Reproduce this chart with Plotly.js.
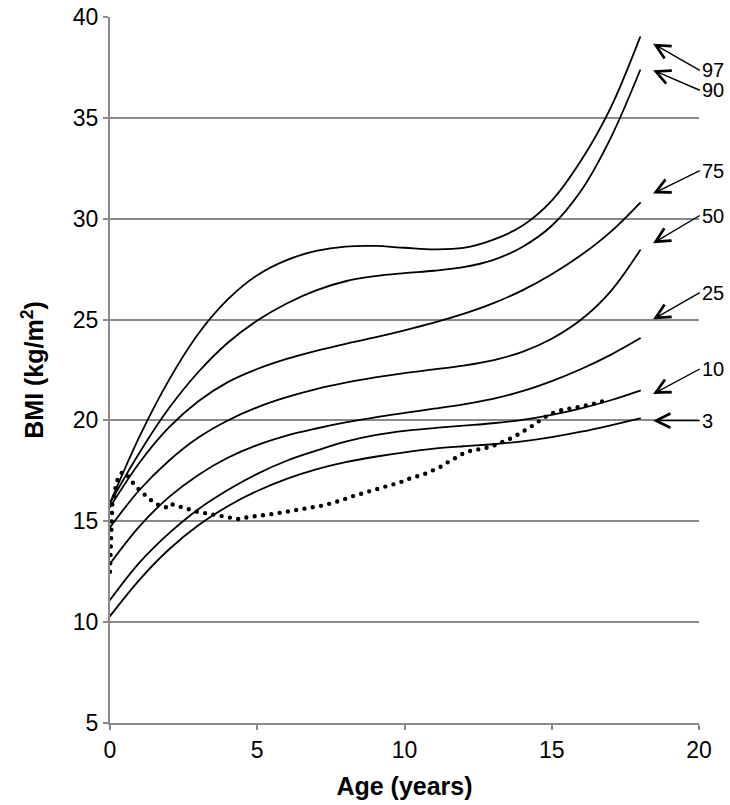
<!DOCTYPE html>
<html><head><meta charset="utf-8">
<script src="https://cdn.plot.ly/plotly-3.0.1.min.js"></script>
<style>
html,body{margin:0;padding:0;background:#fff}
#chart{width:730px;height:805px}
.scatterlayer .js-line{stroke-linecap:round}
</style>
</head><body><div id="chart"></div>
<script>
// Percentile curves (age in years, BMI kg/m2)
const ages = [0,1,2,3,4,5,6,7,8,9,10,11,12,13,14,15,16,17,18];
const p97 = [15.9,19.2,22.0,24.3,26.0,27.2,27.95,28.4,28.62,28.65,28.56,28.48,28.55,28.95,29.65,30.9,32.9,35.5,39.0];
const p90 = [15.9,18.4,20.6,22.4,23.85,24.95,25.8,26.45,26.9,27.15,27.3,27.42,27.6,27.95,28.6,29.65,31.4,34.0,37.36];
const p75 = [15.7,17.9,19.65,20.95,21.9,22.55,23.05,23.45,23.8,24.12,24.47,24.85,25.28,25.8,26.45,27.25,28.2,29.35,30.79];
const p50 = [14.7,16.55,18.0,19.15,20.0,20.65,21.15,21.55,21.87,22.13,22.35,22.53,22.72,22.98,23.4,24.05,25.0,26.4,28.44];
const p25 = [12.9,14.75,16.2,17.3,18.15,18.78,19.25,19.6,19.9,20.15,20.37,20.58,20.8,21.07,21.45,21.95,22.55,23.25,24.07];
const p10 = [11.1,12.95,14.4,15.6,16.55,17.35,18.0,18.5,18.95,19.27,19.48,19.62,19.74,19.86,20.03,20.28,20.6,21.0,21.48];
const p3  = [10.3,12.1,13.6,14.8,15.75,16.5,17.1,17.57,17.93,18.2,18.42,18.6,18.72,18.82,18.96,19.17,19.44,19.76,20.1];
const curves = [p97,p90,p75,p50,p25,p10,p3];
const labels = ['97','90','75','50','25','10','3'];
const curveEndBmi = [38.68,37.36,31.25,28.78,25.01,21.31,19.99]; // where each label arrow points

// Individual child's BMI (dotted)
const childAge = [0,0.01,0.02,0.03,0.04,0.05,0.06,0.07,0.08,0.16,0.2,0.29,0.43,0.66,0.81,1.02,1.25,1.47,1.75,1.99,2.09,2.38,2.66,2.94,3.22,3.53,3.82,4.11,4.39,4.67,4.99,5.28,5.56,5.85,6.15,6.44,6.72,7.02,7.3,7.58,7.85,8.14,8.4,8.7,9.0,9.3,9.55,9.84,10.09,10.37,10.66,10.94,11.2,11.45,11.71,11.97,12.24,12.52,12.81,13.1,13.37,13.63,13.89,14.14,14.39,14.62,14.88,15.16,15.44,15.73,16.01,16.3,16.58,16.86];
const childBmi = [12.5,12.96,13.39,13.8,14.24,14.66,15.07,15.48,15.93,16.39,16.8,17.22,17.46,17.17,16.84,16.52,16.23,15.95,15.73,15.68,15.85,15.7,15.6,15.48,15.4,15.32,15.23,15.16,15.1,15.2,15.25,15.3,15.37,15.44,15.52,15.57,15.62,15.7,15.8,15.93,16.03,16.2,16.3,16.45,16.57,16.7,16.8,16.92,17.08,17.18,17.33,17.51,17.68,17.91,18.13,18.34,18.49,18.57,18.65,18.79,18.95,19.12,19.33,19.53,19.78,20.02,20.27,20.44,20.56,20.61,20.69,20.77,20.88,21.02];

// label arrow geometry (pixel offsets of label from arrow tip)
const arrowTipAge = 18.44;
const arrowDx = 46.7;
const arrowDy = [26.7,20,-22.8,-27.8,-26.8,-25,0];

const traces = curves.map((c,i)=>({
  x: ages, y: c, type:'scatter', mode:'lines', name: labels[i],
  line:{color:'#000', width:1.8, shape:'spline', smoothing:1},
  hoverinfo:'skip'
}));
traces.push({
  x: childAge, y: childBmi, type:'scatter', mode:'lines', name:'child',
  line:{color:'#000', width:4.4, dash:'0px,8.4px'}, hoverinfo:'skip'
});

const annotations = labels.map((lab,i)=>({
  x: arrowTipAge, y: curveEndBmi[i], xref:'x', yref:'y',
  ax: arrowDx, ay: arrowDy[i],
  text: lab, xanchor:'left', yanchor:'middle',
  font:{family:'Liberation Sans, Arial, sans-serif', size:20, color:'#000'},
  showarrow:true, arrowhead:5, arrowsize:2.0,
  arrowwidth:1.4, arrowcolor:'#000', standoff:0, startstandoff:0, borderpad:1
}));

const layout = {
  width:730, height:805,
  margin:{l:110, r:30.7, t:16.7, b:81.7},
  paper_bgcolor:'#fff', plot_bgcolor:'#fff',
  showlegend:false,
  font:{family:'Liberation Sans, Arial, sans-serif', color:'#000'},
  xaxis:{
    range:[0,20], tickvals:[0,5,10,15,20], ticktext:['0','5','10','15','20'],
    showgrid:false, zeroline:false,
    showline:true, linecolor:'#8a8a8a', linewidth:2,
    ticks:'outside', ticklen:5, tickwidth:2, tickcolor:'#8a8a8a',
    tickfont:{size:23, color:'#000'},
    title:{text:'<b>Age (years)</b>', font:{size:25, color:'#000'}, standoff:16}
  },
  yaxis:{
    range:[5,40], tickvals:[5,10,15,20,25,30,35,40], ticktext:['5','10','15','20','25','30','35','40'],
    showgrid:true, gridcolor:'#8a8a8a', gridwidth:2, zeroline:false,
    showline:true, linecolor:'#8a8a8a', linewidth:2,
    ticks:'outside', ticklen:5, tickwidth:2, tickcolor:'#8a8a8a',
    tickfont:{size:23, color:'#000'},
    title:{text:'<b>BMI (kg/m<sup>2</sup>)</b>', font:{size:25, color:'#000'}, standoff:22}
  },
  annotations: annotations
};

Plotly.newPlot('chart', traces, layout, {staticPlot:true, displayModeBar:false});
</script></body></html>
